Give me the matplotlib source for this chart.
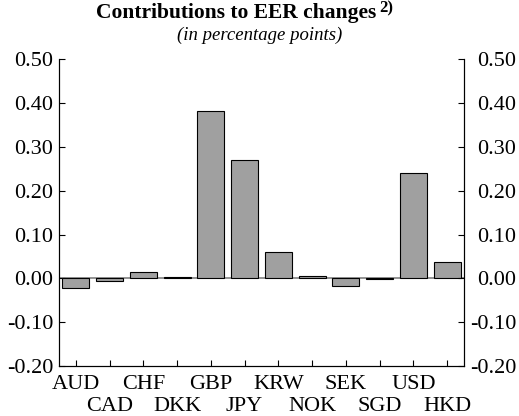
import matplotlib
matplotlib.use("Agg")
import matplotlib.pyplot as plt

categories = ["AUD", "CAD", "CHF", "DKK", "GBP", "JPY", "KRW", "NOK", "SEK", "SGD", "USD", "HKD"]
values = [-0.021, -0.007, 0.014, 0.002, 0.382, 0.271, 0.060, 0.005, -0.017, -0.001, 0.241, 0.038]
yticks = [-0.20, -0.10, 0.00, 0.10, 0.20, 0.30, 0.40, 0.50]

plt.rcParams['font.family'] = ['Liberation Serif', 'DejaVu Serif']

fig = plt.figure(figsize=(5.19, 4.16), dpi=100)
ax = fig.add_axes([0.1137, 0.120, 0.7803, 0.738])

x = list(range(len(categories)))
ax.axhline(0, color='#808080', linewidth=1.2, zorder=1)
ax.bar(x, values, width=0.8, color='#a0a0a0', edgecolor='black', linewidth=0.8, zorder=2)

ax.set_xlim(-0.5, len(categories) - 0.5)
ax.set_ylim(-0.20, 0.50)
ylabels = [f"{v:.2f}" for v in yticks]
ax.set_yticks(yticks)
ax.set_yticklabels(ylabels, fontsize=16)
ax.tick_params(axis='y', direction='in', length=4, width=0.8, pad=4, right=False)

ax2 = ax.twinx()
ax2.set_ylim(ax.get_ylim())
ax2.set_yticks(yticks)
ax2.set_yticklabels(ylabels, fontsize=16, ha='right')
ax2.tick_params(axis='y', direction='in', length=4, width=0.8, pad=37.5)
ax2.spines['top'].set_visible(False)

even = [i for i in x if i % 2 == 0]
odd = [i for i in x if i % 2 == 1]
ax.set_xticks(even)
ax.set_xticklabels([categories[i] for i in even], fontsize=16)
ax.set_xticks(odd, minor=True)
ax.set_xticklabels([categories[i] for i in odd], minor=True, fontsize=16)
ax.tick_params(axis='x', which='major', direction='in', length=4, width=0.8, pad=6.5)
ax.tick_params(axis='x', which='minor', direction='in', length=4, width=0.8, pad=22.5)
ax.spines['top'].set_visible(False)
for a in (ax, ax2):
    for s in ['left', 'right', 'bottom']:
        a.spines[s].set_linewidth(0.8)

fig.text(0.4557, 0.968, "Contributions to EER changes", ha='center', va='center',
         fontsize=15.5, fontweight='bold')
fig.text(0.731, 0.979, "2)", ha='left', va='center', fontsize=12, fontweight='bold')
fig.text(0.50, 0.915, "(in percentage points)", ha='center', va='center',
         fontsize=13.5, style='italic')

fig.savefig("out.png", dpi=100)
